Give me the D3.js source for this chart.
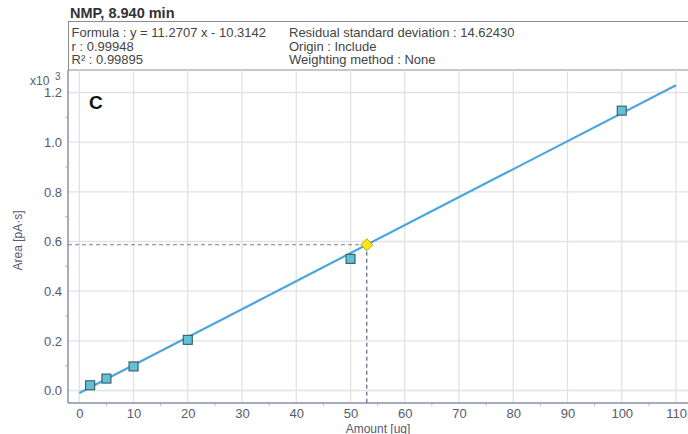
<!DOCTYPE html>
<html>
<head>
<meta charset="utf-8">
<script src="https://cdn.jsdelivr.net/npm/d3@7"></script>
<style>
  html, body { margin: 0; padding: 0; background: #fff; }
  svg { display: block; font-family: "Liberation Sans", Arial, sans-serif; }
</style>
</head>
<body>
<svg id="chart" width="688" height="434"></svg>
<script>
// Calibration standards: amount (ug) and peak area (x10^3 pA·s)
const amounts = [2, 5, 10, 20, 50, 100];
const areas = [0.021, 0.048, 0.097, 0.204, 0.530, 1.127];

// Linear fit reported by the method (area in pA·s)
const slope = 11.2707;
const intercept = -10.3142;
const sampleAmount = 53;

const xTicks = [0, 10, 20, 30, 40, 50, 60, 70, 80, 90, 100, 110];
const yTicks = [0.0, 0.2, 0.4, 0.6, 0.8, 1.0, 1.2];

const infoLeft = ["Formula : y = 11.2707 x - 10.3142", "r : 0.99948", "R² : 0.99895"];
const infoRight = ["Residual standard deviation : 14.62430", "Origin : Include", "Weighting method : None"];

const svg = d3.select("#chart");

const plot = { left: 68, right: 688, top: 70, bottom: 403 };

const x = d3.scaleLinear().domain([0, 110]).range([79.3, 676]);
const y = d3.scaleLinear().domain([0, 1.2]).range([390.5, 92.5]);

const fit = v => (slope * v + intercept) / 1000;

const axisColor = "#8a8fab";
const gridColor = "#e2e2e2";
const textColor = "#555a6e";

// Title
svg.append("text").attr("x", 70).attr("y", 17.5)
  .attr("font-size", 14.5).attr("font-weight", "bold").attr("fill", "#333")
  .text("NMP, 8.940 min");

// Info box
svg.append("rect").attr("x", 68.5).attr("y", 21.5).attr("width", 630).attr("height", 48.5)
  .attr("fill", "#fff").attr("stroke", "#8c8c96").attr("stroke-width", 1);

infoLeft.forEach((t, i) => {
  svg.append("text").attr("x", 71.5).attr("y", 37 + i * 13.7)
    .attr("font-size", 13).attr("fill", "#444").text(t);
});
infoRight.forEach((t, i) => {
  svg.append("text").attr("x", 289).attr("y", 37 + i * 13.7)
    .attr("font-size", 13).attr("fill", "#444").text(t);
});

// Grid
const g = svg.append("g");
g.selectAll(".vg").data(xTicks).join("line")
  .attr("x1", d => x(d)).attr("x2", d => x(d))
  .attr("y1", plot.top).attr("y2", plot.bottom)
  .attr("stroke", gridColor).attr("stroke-width", 1.3);
g.selectAll(".hg").data(yTicks).join("line")
  .attr("x1", plot.left).attr("x2", plot.right)
  .attr("y1", d => y(d)).attr("y2", d => y(d))
  .attr("stroke", gridColor).attr("stroke-width", 1.3);

// Axes
const xAxis = d3.axisBottom(x).tickValues(xTicks).tickFormat(d3.format("d")).tickSize(0).tickPadding(6);
const xa = svg.append("g").attr("transform", `translate(0,${plot.bottom})`).call(xAxis);
xa.select(".domain").remove();
xa.selectAll("text").attr("font-size", 13).attr("fill", textColor).attr("font-family", "Liberation Sans, Arial, sans-serif");

const yAxis = d3.axisLeft(y).tickValues(yTicks).tickFormat(d3.format(".1f")).tickSize(0).tickPadding(6);
const ya = svg.append("g").attr("transform", `translate(${plot.left},0)`).call(yAxis);
ya.select(".domain").remove();
ya.selectAll("text").attr("font-size", 13).attr("fill", textColor).attr("font-family", "Liberation Sans, Arial, sans-serif");

// Minor ticks
const xMinor = d3.range(5, 110, 10);
svg.selectAll(".xm").data(xMinor).join("line")
  .attr("x1", d => x(d)).attr("x2", d => x(d))
  .attr("y1", plot.bottom).attr("y2", plot.bottom + 3)
  .attr("stroke", "#b8bccc").attr("stroke-width", 1);
const yMinor = d3.range(0.1, 1.3, 0.2);
svg.selectAll(".ym").data(yMinor).join("line")
  .attr("x1", plot.left - 3).attr("x2", plot.left)
  .attr("y1", d => y(d)).attr("y2", d => y(d))
  .attr("stroke", "#b8bccc").attr("stroke-width", 1);

// Axis lines
svg.append("line").attr("x1", plot.left).attr("x2", plot.left)
  .attr("y1", plot.top).attr("y2", plot.bottom)
  .attr("stroke", axisColor).attr("stroke-width", 1.5);
svg.append("line").attr("x1", plot.left).attr("x2", plot.right)
  .attr("y1", plot.bottom).attr("y2", plot.bottom)
  .attr("stroke", axisColor).attr("stroke-width", 1.5);

// Axis titles
svg.append("text").attr("x", 30).attr("y", 85)
  .attr("font-size", 12).attr("fill", textColor).text("x10");
svg.append("text").attr("x", 55).attr("y", 80)
  .attr("font-size", 10).attr("fill", textColor).text("3");

svg.append("text")
  .attr("transform", `translate(22,${(plot.top + plot.bottom) / 2 + 4}) rotate(-90)`)
  .attr("text-anchor", "middle").attr("font-size", 12).attr("fill", textColor)
  .text("Area [pA·s]");

svg.append("text").attr("x", 378).attr("y", 432.5)
  .attr("text-anchor", "middle").attr("font-size", 12).attr("fill", textColor)
  .text("Amount [ug]");

// Panel letter
svg.append("text").attr("x", 89).attr("y", 109)
  .attr("font-size", 19).attr("font-weight", "bold").attr("fill", "#111").text("C");

// Sample read-off lines
const sampleArea = fit(sampleAmount);
svg.append("line")
  .attr("x1", plot.left).attr("x2", x(sampleAmount))
  .attr("y1", y(sampleArea)).attr("y2", y(sampleArea))
  .attr("stroke", "#7a7f92").attr("stroke-width", 1).attr("stroke-dasharray", "4,3");
svg.append("line")
  .attr("x1", x(sampleAmount)).attr("x2", x(sampleAmount))
  .attr("y1", y(sampleArea)).attr("y2", plot.bottom)
  .attr("stroke", "#3d4466").attr("stroke-width", 1).attr("stroke-dasharray", "4,3");

// Regression line
svg.append("line")
  .attr("x1", x(0)).attr("y1", y(fit(0)))
  .attr("x2", x(110)).attr("y2", y(fit(110)))
  .attr("stroke", "#4aa6dd").attr("stroke-width", 2.2);

// Standards
svg.selectAll(".pt").data(amounts.map((a, i) => [a, areas[i]])).join("rect")
  .attr("x", d => x(d[0]) - 4.5).attr("y", d => y(d[1]) - 4.5)
  .attr("width", 9).attr("height", 9)
  .attr("fill", "#5ec3d6").attr("stroke", "#3f5566").attr("stroke-width", 1.1);

// Sample marker
const sx = x(sampleAmount), sy = y(sampleArea);
svg.append("path")
  .attr("d", `M${sx},${sy - 6}L${sx + 6},${sy}L${sx},${sy + 6}L${sx - 6},${sy}Z`)
  .attr("fill", "#f5e61c").attr("stroke", "#b8a800").attr("stroke-width", 1);
</script>
</body>
</html>
